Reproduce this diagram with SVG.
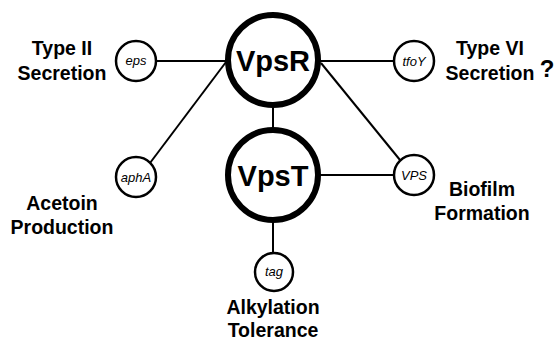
<svg xmlns="http://www.w3.org/2000/svg" width="554" height="340" viewBox="0 0 554 340">
<style>
.big{fill:#fff;stroke:#000;stroke-width:6}
.small{fill:#fff;stroke:#000;stroke-width:2.5}
.ln{stroke:#000;stroke-width:2;fill:none}
.bt{font-family:"Liberation Sans",Arial,sans-serif;font-weight:bold;font-size:29px;text-anchor:middle;fill:#000}
.gt{font-family:"Liberation Sans",Arial,sans-serif;font-style:italic;font-size:13px;text-anchor:middle;fill:#000}
.lb{font-family:"Liberation Sans",Arial,sans-serif;font-weight:bold;font-size:19.5px;text-anchor:middle;fill:#000}
</style>
<rect width="554" height="340" fill="#fff"/>
<g id="connectors">
<line class="ln" x1="156" y1="61" x2="226" y2="61"/>
<line class="ln" x1="150" y1="163" x2="226" y2="62"/>
<line class="ln" x1="320" y1="61" x2="394" y2="61"/>
<line class="ln" x1="321" y1="63" x2="400" y2="160"/>
<line class="ln" x1="273" y1="106" x2="273" y2="130"/>
<line class="ln" x1="320" y1="175" x2="394" y2="175"/>
<line class="ln" x1="273" y1="220" x2="273" y2="253"/>
</g>
<g id="VpsR">
<circle class="big" cx="273" cy="60" r="45"/>
<text class="bt" x="273" y="71">VpsR</text>
</g>
<g id="VpsT">
<circle class="big" cx="273" cy="175" r="45"/>
<text class="bt" x="273" y="186">VpsT</text>
</g>
<g id="eps">
<circle class="small" cx="136" cy="61" r="20"/>
<text class="gt" x="136" y="65">eps</text>
</g>
<g id="tfoY">
<circle class="small" cx="414" cy="61" r="20"/>
<text class="gt" x="414" y="66">tfoY</text>
</g>
<g id="aphA">
<circle class="small" cx="136" cy="177" r="20"/>
<text class="gt" x="136" y="182">aphA</text>
</g>
<g id="VPS">
<circle class="small" cx="414" cy="175" r="20"/>
<text class="gt" x="414" y="180">VPS</text>
</g>
<g id="tag">
<circle class="small" cx="274" cy="272" r="19"/>
<text class="gt" x="274" y="276">tag</text>
</g>
<g id="label-type2">
<text class="lb" x="62" y="55">Type II</text>
<text class="lb" x="62" y="80">Secretion</text>
</g>
<g id="label-type6">
<text class="lb" x="490" y="55">Type VI</text>
<text class="lb" x="490" y="80">Secretion</text>
<text class="lb" x="547" y="77" style="font-size:24px">?</text>
</g>
<g id="label-acetoin">
<text class="lb" x="62" y="210">Acetoin</text>
<text class="lb" x="62" y="234">Production</text>
</g>
<g id="label-biofilm">
<text class="lb" x="482" y="196">Biofilm</text>
<text class="lb" x="482" y="220">Formation</text>
</g>
<g id="label-alkylation">
<text class="lb" x="273" y="314">Alkylation</text>
<text class="lb" x="273" y="337">Tolerance</text>
</g>
</svg>
